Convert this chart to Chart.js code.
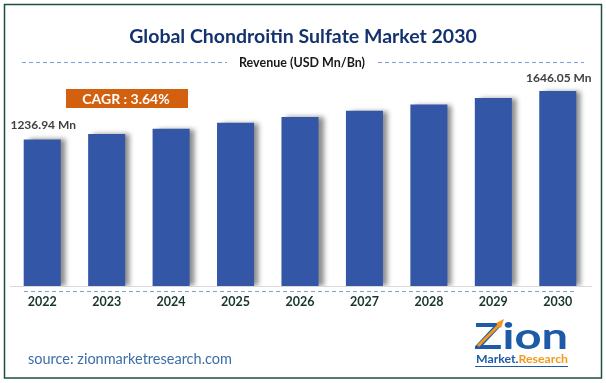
<!DOCTYPE html>
<html>
<head>
<meta charset="utf-8">
<script src="https://cdn.jsdelivr.net/npm/chart.js@4.4.1/dist/chart.umd.min.js"></script>
<style>
html,body{margin:0;padding:0;background:#fff;}
canvas{display:block;}
</style>
</head>
<body>
<canvas id="c" width="606" height="383"></canvas>
<script>
const years = ['2022','2023','2024','2025','2026','2027','2028','2029','2030'];
const revenue = [1236.94, 1282, 1326, 1377, 1426, 1479, 1531, 1587, 1646.05];
const firstLabel = '1236.94 Mn';
const lastLabel = '1646.05 Mn';
const titleText = 'Global Chondroitin Sulfate Market 2030';
const subtitleText = 'Revenue (USD Mn/Bn)';
const cagrText = 'CAGR : 3.64%';
const sourceText = 'source: zionmarketresearch.com';

const FONT = 'Lato, "Open Sans", sans-serif';

const shadowPlugin = {
  id: 'barShadow',
  beforeDatasetsDraw(chart) {
    const ctx = chart.ctx;
    ctx.save();
    ctx.shadowColor = 'rgba(0,0,0,0.45)';
    ctx.shadowOffsetX = 5;
    ctx.shadowOffsetY = 0;
    ctx.shadowBlur = 5;
  },
  afterDatasetsDraw(chart) {
    chart.ctx.restore();
  }
};

function dashed(ctx, x1, x2, y, color) {
  ctx.save();
  ctx.strokeStyle = color;
  ctx.lineWidth = 1;
  ctx.setLineDash([4, 3]);
  ctx.beginPath();
  ctx.moveTo(x1, y + 0.5);
  ctx.lineTo(x2, y + 0.5);
  ctx.stroke();
  ctx.restore();
}

function fitText(ctx, text, x, y, width) {
  const w = ctx.measureText(text).width;
  ctx.save();
  ctx.translate(x, y);
  ctx.scale(width / w, 1);
  ctx.fillText(text, 0, 0);
  ctx.restore();
}

const decorPlugin = {
  id: 'decor',
  afterDraw(chart) {
    const ctx = chart.ctx;
    ctx.save();
    // border
    ctx.strokeStyle = '#1f4e3d';
    ctx.lineWidth = 1.5;
    ctx.strokeRect(4.5, 4.5, 597, 373.5);

    // axis line extension
    ctx.strokeStyle = '#d9d9d9';
    ctx.lineWidth = 1;
    const yb = Math.round(chart.chartArea.bottom) + 0.5;
    ctx.beginPath();
    ctx.moveTo(12, yb);
    ctx.lineTo(592, yb);
    ctx.stroke();

    // title
    ctx.fillStyle = '#14336e';
    ctx.font = 'bold 19.5px ' + FONT;
    ctx.textAlign = 'center';
    ctx.textBaseline = 'alphabetic';
    ctx.fillText(titleText, 303, 43);

    // subtitle with dashes
    ctx.fillStyle = '#1a1a1a';
    ctx.font = 'bold 12.5px ' + FONT;
    ctx.fillText(subtitleText, 302, 67);
    dashed(ctx, 22, 227, 62, '#7f9fd8');
    dashed(ctx, 378, 584, 62, '#7f9fd8');

    // CAGR box
    ctx.fillStyle = '#d2600f';
    ctx.fillRect(66, 89, 122, 19);
    ctx.fillStyle = '#ffffff';
    ctx.font = 'bold 14px ' + FONT;
    ctx.textBaseline = 'middle';
    ctx.fillText(cagrText, 126, 99);

    // value labels
    const meta = chart.getDatasetMeta(0);
    ctx.fillStyle = '#404040';
    ctx.font = 'bold 12px ' + FONT;
    const b0 = meta.data[0], bN = meta.data[meta.data.length - 1];
    ctx.fillText(firstLabel, b0.x + 1, b0.y - 14);
    ctx.fillText(lastLabel, bN.x + 1, bN.y - 13);

    // dashed line under axis
    dashed(ctx, 24, 576, 291, '#7f9fd8');

    // source
    ctx.fillStyle = '#3b6ea8';
    ctx.font = '14.5px ' + FONT;
    ctx.textAlign = 'left';
    ctx.textBaseline = 'alphabetic';
    ctx.fillText(sourceText, 28, 364);

    // logo
    ctx.fillStyle = '#1d5ba8';
    ctx.font = 'bold 36px ' + FONT;
    ctx.textAlign = 'left';
    fitText(ctx, 'Zion', 474, 349, 94);
    ctx.strokeStyle = '#f39a1e';
    ctx.lineWidth = 3;
    ctx.beginPath();
    ctx.moveTo(478, 346);
    ctx.lineTo(500, 324);
    ctx.stroke();
    ctx.fillStyle = '#f39a1e';
    ctx.beginPath();
    ctx.moveTo(504, 319);
    ctx.lineTo(496, 323);
    ctx.lineTo(501, 328);
    ctx.closePath();
    ctx.fill();
    ctx.font = 'bold 11.5px ' + FONT;
    const wm = ctx.measureText('Market.').width;
    const wr = ctx.measureText('Research').width;
    const sc = 92 / (wm + wr);
    ctx.save();
    ctx.translate(476, 363);
    ctx.scale(sc, 1);
    ctx.fillStyle = '#1d5ba8';
    ctx.fillText('Market.', 0, 0);
    ctx.fillStyle = '#f39a1e';
    ctx.fillText('Research', wm, 0);
    ctx.restore();
    ctx.strokeStyle = '#1d5ba8';
    ctx.lineWidth = 1;
    ctx.beginPath();
    ctx.moveTo(475, 366.5);
    ctx.lineTo(568, 366.5);
    ctx.stroke();
    ctx.restore();
  }
};

new Chart(document.getElementById('c'), {
  type: 'bar',
  data: {
    labels: years,
    datasets: [{
      data: revenue,
      backgroundColor: '#3356a6',
      borderWidth: 0,
      barPercentage: 0.575,
      categoryPercentage: 1.0
    }]
  },
  options: {
    responsive: false,
    devicePixelRatio: 1,
    animation: false,
    layout: { padding: { left: 10, right: 16, top: 49, bottom: 66 } },
    plugins: { legend: { display: false }, tooltip: { enabled: false }, title: { display: false } },
    scales: {
      x: {
        grid: { display: false, drawTicks: false },
        border: { display: true, color: '#d9d9d9', width: 1 },
        ticks: { color: '#17372c', font: { family: FONT, size: 12.5, weight: 'bold' }, padding: 8, maxRotation: 0 }
      },
      y: {
        display: false,
        min: 0,
        max: 2000
      }
    }
  },
  plugins: [shadowPlugin, decorPlugin]
});
</script>
</body>
</html>
